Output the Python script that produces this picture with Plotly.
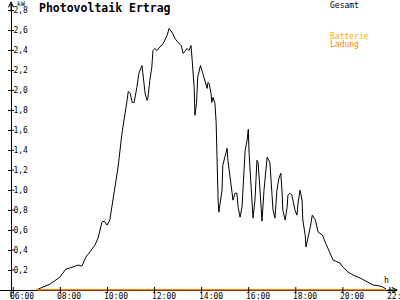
import plotly.graph_objects as go
import pandas as pd

DAY = "2024-06-01 "

gesamt_times = [
    "06:58", "07:34", "07:59", "08:07", "08:14", "08:24", "08:45", "08:55", "09:05", "09:15",
    "09:28", "09:36", "09:46", "09:52", "09:59", "10:06", "10:14", "10:21", "10:27", "10:37",
    "10:45", "10:50", "10:53", "10:58", "11:03", "11:08", "11:15", "11:20", "11:28", "11:30",
    "11:36", "11:41", "11:43", "11:48", "11:53", "11:56", "12:01", "12:06", "12:14", "12:22",
    "12:32", "12:37", "12:45", "12:52", "13:00", "13:08", "13:13", "13:18", "13:23", "13:28",
    "13:33", "13:36", "13:41", "13:43", "13:47", "13:50", "13:57", "14:03", "14:09", "14:14",
    "14:16", "14:19", "14:24", "14:26", "14:29", "14:34", "14:37", "14:39", "14:42", "14:44",
    "14:52", "14:54", "15:05", "15:07", "15:15", "15:20", "15:25", "15:30", "15:33", "15:38",
    "15:43", "15:46", "15:51", "15:56", "15:59", "16:01", "16:04", "16:09", "16:11", "16:16",
    "16:21", "16:24", "16:26", "16:31", "16:34", "16:39", "16:44", "16:47", "16:54", "16:59",
    "17:02", "17:07", "17:12", "17:17", "17:22", "17:25", "17:27", "17:33", "17:38", "17:40",
    "17:45", "17:50", "17:53", "17:58", "18:03", "18:06", "18:11", "18:16", "18:18", "18:24",
    "18:26", "18:32", "18:37", "18:42", "18:50", "18:57", "19:08", "19:15", "19:23", "19:35",
    "19:53", "20:00", "20:13", "20:26", "20:44", "21:02", "21:17", "21:34", "21:42", "21:50",
]
gesamt_kw = [
    0.00, 0.06, 0.13, 0.18, 0.21, 0.22, 0.25, 0.24, 0.33, 0.38,
    0.45, 0.52, 0.68, 0.69, 0.65, 0.70, 0.90, 1.05, 1.23, 1.57,
    1.75, 1.90, 1.99, 1.97, 1.88, 1.88, 2.03, 2.17, 2.25, 2.17,
    1.97, 1.90, 1.92, 2.10, 2.23, 2.40, 2.42, 2.40, 2.43, 2.47,
    2.55, 2.62, 2.58, 2.52, 2.48, 2.45, 2.37, 2.40, 2.42, 2.40,
    2.45, 2.30, 2.03, 1.75, 1.87, 2.13, 2.25, 2.17, 2.08, 2.02,
    2.08, 2.07, 1.97, 1.88, 1.93, 1.87, 1.68, 1.30, 0.90, 0.78,
    1.00, 1.25, 1.42, 1.30, 1.07, 0.90, 0.97, 0.97, 0.83, 0.73,
    0.83, 1.10, 1.40, 1.50, 1.61, 1.37, 1.17, 0.83, 0.72, 0.90,
    1.30, 1.28, 1.17, 0.83, 0.69, 1.00, 1.27, 1.33, 1.28, 1.00,
    0.80, 0.72, 1.00, 1.12, 1.17, 0.98, 0.80, 0.70, 0.83, 0.95,
    0.97, 0.95, 0.90, 0.80, 0.75, 0.88, 1.00, 0.90, 0.70, 0.55,
    0.43, 0.53, 0.63, 0.75, 0.70, 0.58, 0.55, 0.48, 0.40, 0.30,
    0.27, 0.23, 0.18, 0.15, 0.12, 0.08, 0.05, 0.04, 0.03, 0.01,
]

ladung_times = ["06:58", "21:50"]
ladung_kw = [0.0, 0.0]

x_tick_times = ["06:00", "08:00", "10:00", "12:00", "14:00", "16:00", "18:00", "20:00", "22:00"]
y_tick_vals = [0.2, 0.4, 0.6, 0.8, 1.0, 1.2, 1.4, 1.6, 1.8, 2.0, 2.2, 2.4, 2.6, 2.8]

title_text = "Photovoltaik Ertrag"
unit_y = "kW"
unit_x = "h"
legend_gesamt = "Gesamt"
legend_batterie = "Batterie"
legend_ladung = "Ladung"

W, H = 400, 300
FONT = "DejaVu Sans Mono"
ORANGE = "#FF8000"
GOLD = "#FFB000"
PX_PER_KW = 99.8
AXIS_X_PX = 11
BOTTOM_PX = 290
Y_PAD = 0.005  # small pad so the zero-line series sits on the axis


def ts(t):
    return pd.to_datetime(DAY + t)


def px_x(p):
    return p / W


def px_y(p):
    return (H - p) / H


fig = go.Figure()
fig.add_trace(go.Scatter(
    x=[ts(t) for t in gesamt_times], y=gesamt_kw, mode="lines",
    line=dict(color="black", width=1), hoverinfo="skip", showlegend=False,
))
fig.add_trace(go.Scatter(
    x=[ts(t) for t in ladung_times], y=ladung_kw, mode="lines",
    line=dict(color=ORANGE, width=1.8), hoverinfo="skip", showlegend=False,
))

x_ticks = [ts(t) for t in x_tick_times]

shapes = []
for t in x_ticks:
    shapes.append(dict(type="line", xref="x", yref="paper", x0=t, x1=t,
                       y0=px_y(BOTTOM_PX + 3), y1=px_y(BOTTOM_PX - 3),
                       line=dict(color="black", width=1)))
for v in y_tick_vals:
    shapes.append(dict(type="line", xref="paper", yref="y",
                       x0=px_x(AXIS_X_PX), x1=px_x(AXIS_X_PX + 3), y0=v, y1=v,
                       line=dict(color="black", width=1)))
shapes.append(dict(type="line", xref="paper", yref="paper",
                   x0=px_x(AXIS_X_PX), x1=px_x(AXIS_X_PX),
                   y0=px_y(BOTTOM_PX), y1=px_y(297),
                   line=dict(color="black", width=1)))


def label(text, xp, yp, size, color, bold=False):
    return dict(text=("<b>%s</b>" % text) if bold else text,
                x=px_x(xp), y=px_y(yp), xref="paper", yref="paper",
                xanchor="left", yanchor="top", showarrow=False, borderpad=0,
                font=dict(family=FONT, size=size, color=color))


annotations = [
    label(title_text, 38, 0, 11.5, "black", bold=True),
    label(unit_y, 16, -1.5, 6.5, "black"),
    label(unit_x, 383, 275, 8, "black"),
    label(legend_gesamt, 329, 0, 8, "black"),
    label(legend_batterie, 329, 31, 8, GOLD),
    label(legend_ladung, 329, 39, 8, ORANGE),
    dict(text="", x=px_x(AXIS_X_PX), y=px_y(1), xref="paper", yref="paper",
         ax=0, ay=12, showarrow=True, arrowhead=5, arrowsize=1, arrowwidth=1,
         arrowcolor="black", standoff=0),
    dict(text="", x=px_x(398), y=px_y(BOTTOM_PX), xref="paper", yref="paper",
         ax=-12, ay=0, showarrow=True, arrowhead=5, arrowsize=1, arrowwidth=1,
         arrowcolor="black", standoff=0),
]
for t, txt in zip(x_ticks, x_tick_times):
    annotations.append(dict(text=txt, x=t, y=px_y(BOTTOM_PX + 0.5), xref="x", yref="paper",
                            xanchor="center", yanchor="top", xshift=9, showarrow=False,
                            borderpad=0, font=dict(family=FONT, size=8, color="black")))

fig.update_layout(
    width=W, height=H,
    margin=dict(l=0, r=0, t=0, b=0),
    paper_bgcolor="white", plot_bgcolor="white",
    separators=",.",
    showlegend=False,
    font=dict(family=FONT, size=8, color="black"),
    shapes=shapes,
    annotations=annotations,
    xaxis=dict(
        type="date", domain=[0, 397 / W],
        range=[DAY + "05:26:06", DAY + "22:18:00"],
        tickvals=x_ticks, showticklabels=False,
        ticks="", layer="below traces",
        showline=True, linecolor="black", linewidth=1,
        showgrid=False, zeroline=False, fixedrange=True,
    ),
    yaxis=dict(
        domain=[px_y(BOTTOM_PX + Y_PAD * PX_PER_KW), px_y(3)],
        range=[-Y_PAD, (BOTTOM_PX - 3) / PX_PER_KW],
        anchor="free", position=px_x(AXIS_X_PX),
        tickvals=y_tick_vals, tickformat=".1f",
        ticks="outside", ticklen=3, tickcolor="black", tickwidth=1,
        ticklabelposition="inside", layer="below traces",
        showline=True, linecolor="black", linewidth=1,
        showgrid=False, zeroline=False, fixedrange=True,
        tickfont=dict(family=FONT, size=8, color="black"),
    ),
)

fig.write_html("out.html", config=dict(displayModeBar=False))
